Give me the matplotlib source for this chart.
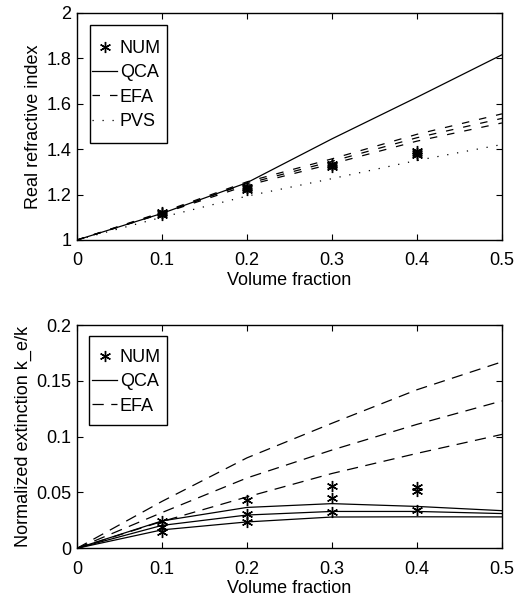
import numpy as np
import matplotlib
matplotlib.use('Agg')
import matplotlib.pyplot as plt
from matplotlib.patches import Rectangle

plt.rcParams['font.family'] = ['Liberation Sans', 'DejaVu Sans']
plt.rcParams['font.size'] = 13

# volume fraction grid
vf = [0.0, 0.1, 0.2, 0.3, 0.4, 0.5]
vf_num = [0.1, 0.2, 0.3, 0.4]

# top panel: real refractive index
qca_n = [1.0, 1.117, 1.252, 1.445, 1.628, 1.815]
efa_n = [
    [1.0, 1.116, 1.240, 1.335, 1.435, 1.515],
    [1.0, 1.119, 1.248, 1.346, 1.450, 1.535],
    [1.0, 1.122, 1.256, 1.357, 1.465, 1.555],
]
pvs_n = [1.0, 1.100, 1.193, 1.270, 1.350, 1.420]
num_n = [
    [1.112, 1.222, 1.322, 1.373],
    [1.118, 1.228, 1.328, 1.383],
    [1.123, 1.232, 1.335, 1.390],
]

# bottom panel: normalized extinction
qca_k = [
    [0.0, 0.0165, 0.0236, 0.0280, 0.0282, 0.0281],
    [0.0, 0.0205, 0.0298, 0.0330, 0.0330, 0.0311],
    [0.0, 0.0245, 0.0366, 0.0400, 0.0375, 0.0337],
]
efa_k = [
    [0.0, 0.024, 0.046, 0.067, 0.085, 0.102],
    [0.0, 0.032, 0.063, 0.088, 0.111, 0.132],
    [0.0, 0.042, 0.081, 0.112, 0.142, 0.167],
]
num_k = [
    [0.0149, 0.0239, 0.0323, 0.0343],
    [0.0194, 0.0308, 0.0448, 0.0517],
    [0.0248, 0.0433, 0.0559, 0.0547],
]

star = (6, 2, 0)
lw = 0.9

fig = plt.figure(figsize=(5.18, 5.97), dpi=100)
ax1 = fig.add_axes([0.1486, 0.598, 0.8204, 0.3807])
ax2 = fig.add_axes([0.1486, 0.0816, 0.8204, 0.374])

# --- top ---
for i, row in enumerate(num_n):
    ax1.plot(vf_num, row, linestyle='none', marker=star, ms=8, mew=1.0,
             color='k', label='NUM' if i == 0 else None)
ax1.plot(vf, qca_n, '-', color='k', lw=lw, label='QCA')
for i, row in enumerate(efa_n):
    ax1.plot(vf, row, color='k', lw=lw, linestyle=(0, (6, 8)),
             label='EFA' if i == 0 else None)
ax1.plot(vf, pvs_n, color='k', lw=lw, linestyle=(0, (1, 7)), label='PVS')
ax1.set_xlim(0, 0.5)
ax1.set_ylim(1, 2)
ax1.set_yticks([1, 1.2, 1.4, 1.6, 1.8, 2])
ax1.set_yticklabels(['1', '1.2', '1.4', '1.6', '1.8', '2'])
ax1.set_ylabel('Real refractive index')
ax1.yaxis.set_label_coords(-0.082, 0.5)

# --- bottom ---
for i, row in enumerate(num_k):
    ax2.plot(vf_num, row, linestyle='none', marker=star, ms=8, mew=1.0,
             color='k', label='NUM' if i == 0 else None)
for i, row in enumerate(qca_k):
    ax2.plot(vf, row, '-', color='k', lw=lw, label='QCA' if i == 0 else None)
for i, row in enumerate(efa_k):
    ax2.plot(vf, row, color='k', lw=lw, linestyle=(0, (9, 6)),
             label='EFA' if i == 0 else None)
ax2.set_xlim(0, 0.5)
ax2.set_ylim(0, 0.2)
ax2.set_yticks([0, 0.05, 0.1, 0.15, 0.2])
ax2.set_yticklabels(['0', '0.05', '0.1', '0.15', '0.2'])
ax2.set_ylabel('Normalized extinction k_e/k')
ax2.yaxis.set_label_coords(-0.106, 0.5)

# legend boxes drawn as plain rectangles, MATLAB style
boxes = {ax1: (0.0306, 0.4267, 0.1812, 0.5193, 0.682),
         ax2: (0.0282, 0.552, 0.1835, 0.399, 0.745)}

for ax in (ax1, ax2):
    ax.set_xticks([0, 0.1, 0.2, 0.3, 0.4, 0.5])
    ax.set_xticklabels(['0', '0.1', '0.2', '0.3', '0.4', '0.5'])
    ax.set_xlabel('Volume fraction', labelpad=1.5)
    ax.tick_params(direction='in', top=True, right=True, length=4,
                   width=0.8)
    ax.tick_params(axis='x', pad=9)
    ax.tick_params(axis='y', pad=4)
    for s in ax.spines.values():
        s.set_linewidth(1.0)
    bx, by, bw, bh, cy = boxes[ax]
    ax.add_patch(Rectangle((bx, by), bw, bh, transform=ax.transAxes,
                           facecolor='white', edgecolor='k', lw=1.0,
                           zorder=4))
    leg = ax.legend(loc='center left', bbox_to_anchor=(0.0353, cy),
                    handlelength=1.4, handletextpad=0.15, borderpad=0,
                    labelspacing=0.4, frameon=False, borderaxespad=0)
    leg.set_zorder(5)

fig.savefig('out.png', dpi=100)
